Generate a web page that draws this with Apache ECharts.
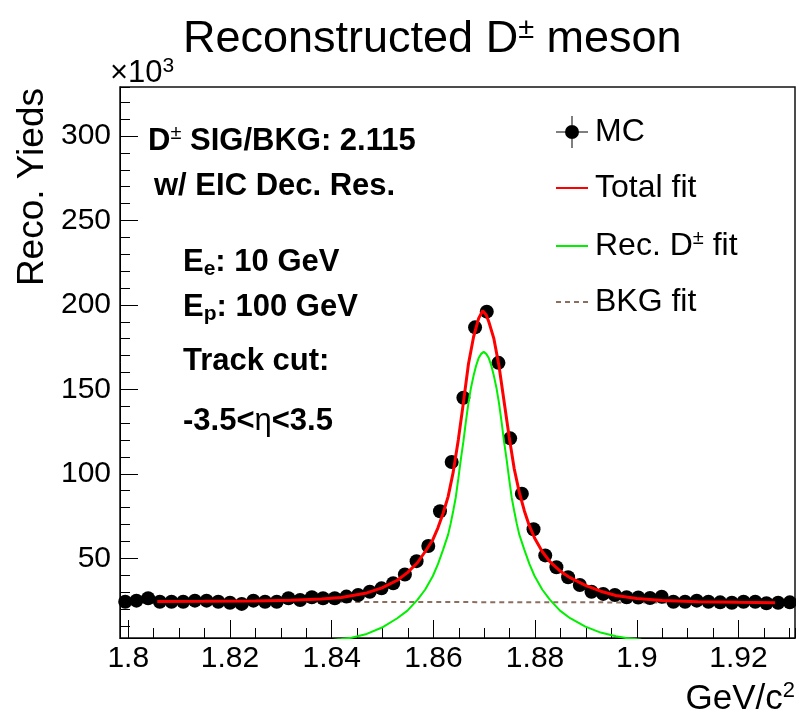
<!DOCTYPE html>
<html><head><meta charset="utf-8">
<script src="https://cdn.jsdelivr.net/npm/echarts@6/dist/echarts.min.js"></script>
<style>html,body{margin:0;padding:0;background:#fff}#c{width:796px;height:718px}</style>
</head><body><div id="c"></div>
<script>
// ---- data (GeV/c^2, yields in units of 10^3) ----
const binCenters = [1.7994,1.8016,1.8039,1.8062,1.8085,1.8108,1.8131,1.8154,1.8177,1.8200,
  1.8223,1.8246,1.8269,1.8292,1.8315,1.8338,1.8361,1.8383,1.8406,1.8429,
  1.8452,1.8475,1.8498,1.8521,1.8544,1.8567,1.8590,1.8613,1.8636,1.8659,
  1.8682,1.8705,1.8728,1.8751,1.8774,1.8797,1.8820,1.8842,1.8865,1.8888,
  1.8911,1.8934,1.8957,1.8980,1.9003,1.9026,1.9049,1.9072,1.9095,1.9118,
  1.9141,1.9164,1.9187,1.9210,1.9233,1.9255,1.9278,1.9301];
const mcYields = [24.3,24.9,26.3,24.3,24.3,24.3,24.9,24.9,24.3,23.7,
  23.0,24.9,24.3,24.3,26.3,25.3,26.9,26.3,26.3,27.3,
  28.3,30.2,32.2,35.2,40.4,48.3,57.3,77.8,107,145,
  186.7,196,165.7,121,88.2,67.2,51.7,44.7,38.8,34.2,
  30.2,28.9,28.3,26.9,26.8,26.5,27.2,24.3,24.3,24.9,
  24.3,23.9,23.7,24.3,24.3,23.4,23.7,23.9];

const fitX = [1.8057,1.8150,1.8250,1.8320,1.8380,1.8419,1.8469,1.8499,1.8529,1.8549,
  1.8569,1.8584,1.8599,1.8609,1.8619,1.8629,1.8639,1.8649,1.8659,1.8669,
  1.8679,1.8689,1.8697,1.8704,1.8709,1.8719,1.8729,1.8739,1.8749,1.8759,
  1.8769,1.8779,1.8789,1.8799,1.8814,1.8829,1.8849,1.8869,1.8899,1.8929,
  1.8959,1.9000,1.9050,1.9120,1.9200,1.9272];
const totalFit = [24.4,24.5,24.7,25.1,25.9,26.8,29.5,32.5,37,41.5,
  47.5,54,61,68,76.5,86.5,101,120,142,165,
  181,192,196.5,194,190,180,164,143,122,103,
  89,78,69,62,54,48,42.5,38.5,34,30.5,
  28,26.2,25,24.3,23.9,23.7];

const sigX = [1.8389,1.8419,1.8439,1.8469,1.8499,1.8529,1.8549,1.8569,1.8584,1.8599,
  1.8609,1.8619,1.8629,1.8634,1.8639,1.8644,1.8649,1.8654,1.8659,1.8664,
  1.8669,1.8674,1.8679,1.8684,1.8689,1.8694,1.8699,1.8704,1.8709,1.8714,
  1.8719,1.8724,1.8729,1.8734,1.8739,1.8744,1.8749,1.8754,1.8759,1.8764,
  1.8769,1.8779,1.8789,1.8799,1.8814,1.8829,1.8849,1.8869,1.8899,1.8929,
  1.8959,1.8979,1.9009];
const sigFit = [1.2,2.2,3.0,5.2,9.0,14.5,19,25.5,31.5,39.5,
  46.5,55,64,70.5,78,86,97,108.5,119,131,
  142,151,158,164,168.5,171,172.2,171,168.5,164,
  158,151,142,131,119,108.5,97,86,78,70.5,
  64,55,46.5,39.5,31.5,25.5,19,14.5,9.5,6,
  3.8,2.8,1.8];

const bkgX = [1.8057,1.9272];
const bkgFit = [24.4,23.7];

const xRange = [1.79837, 1.93112];
const yRange = [2.8, 329];

const zip = (a, b) => a.map((v, i) => [v, b[i]]);
const FONT = '"Liberation Sans", Arial, Helvetica, sans-serif';

const chart = echarts.init(document.getElementById('c'), null, {renderer: 'canvas'});

const baseAxisCommon = {
  axisLine: {show: true, lineStyle: {color: '#000', width: 1}},
  splitLine: {show: false},
};

const RED = '#ff0000', GREEN = '#00f000', BROWN = '#8c6e5f';

const option = {
  animation: false,
  backgroundColor: '#fff',
  grid: {left: 120, right: 1, top: 87, bottom: 80, show: true, borderColor: '#111', borderWidth: 1.5, backgroundColor: 'transparent'},
  xAxis: [
    Object.assign({}, baseAxisCommon, {
      type: 'value', min: xRange[0], max: xRange[1], splitNumber: 7, position: 'bottom',
      axisTick: {show: true, inside: true, length: 18, lineStyle: {color: '#000', width: 1}},
      axisLabel: {show: true, fontSize: 30, color: '#000', fontFamily: FONT, margin: 6,
                  showMinLabel: false, showMaxLabel: false}
    }),
    {
      type: 'value', min: xRange[0], max: xRange[1], splitNumber: 27, position: 'bottom',
      axisLine: {show: false}, splitLine: {show: false}, axisLabel: {show: false},
      axisTick: {show: true, inside: true, length: 10, lineStyle: {color: '#000', width: 1}}
    }
  ],
  yAxis: [
    Object.assign({}, baseAxisCommon, {
      type: 'value', min: yRange[0], max: yRange[1], splitNumber: 6, position: 'left',
      axisTick: {show: true, inside: true, length: 18, lineStyle: {color: '#000', width: 1}},
      axisLabel: {show: true, fontSize: 30, color: '#000', fontFamily: FONT, margin: 9,
                  showMinLabel: false, showMaxLabel: false}
    }),
    {
      type: 'value', min: yRange[0], max: yRange[1], splitNumber: 33, position: 'left',
      axisLine: {show: false}, splitLine: {show: false}, axisLabel: {show: false},
      axisTick: {show: true, inside: true, length: 10, lineStyle: {color: '#000', width: 1}}
    }
  ],
  legend: {
    orient: 'vertical', left: 556, top: 116, itemWidth: 32, itemHeight: 32, itemGap: 24,
    padding: 0, selectedMode: false,
    data: [
      {name: 'MC', icon: 'path://M0,15.5H32V16.5H0Z M15.5,0H16.5V32H15.5Z M23,16A7,7 0 1,1 9,16A7,7 0 1,1 23,16Z',
       itemStyle: {color: '#000', opacity: 1}},
      {name: 'Total fit', icon: 'path://M0,15H32V17H0Z', itemStyle: {color: RED}},
      {name: 'Rec. D\u00b1 fit', icon: 'path://M0,15H32V17H0Z', itemStyle: {color: GREEN}},
      {name: 'BKG fit', icon: 'path://M0,15H5V17H0Z M9,15H14V17H9Z M18,15H23V17H18Z M27,15H32V17H27Z', itemStyle: {color: BROWN}}
    ],
    textStyle: {fontSize: 32, color: '#000', fontFamily: FONT, padding: [0, 0, 0, 2],
      rich: {
        n: {fontSize: 32, color: '#000', fontFamily: FONT, lineHeight: 36},
        s: {fontSize: 20, color: '#000', fontFamily: FONT, verticalAlign: 'top', lineHeight: 18}
      }},
    formatter: function (name) {
      if (name === 'Rec. D\u00b1 fit') return '{n|Rec. D}{s|\u00b1}{n| fit}';
      return name;
    }
  },
  graphic: [
    {type: 'text', x: 183, y: 40, style: {
      text: '{a|Reconstructed D}{s|\u00b1}{a| meson}', verticalAlign: 'middle',
      rich: {a: {fontSize: 45, fontFamily: FONT, fill: '#000', lineHeight: 50},
             s: {fontSize: 29, fontFamily: FONT, fill: '#000', verticalAlign: 'top', lineHeight: 26}}
    }},
    {type: 'text', x: 110, y: 73, style: {
      text: '{a|\u00d710}{s|3}', verticalAlign: 'middle',
      rich: {a: {fontSize: 31, fontFamily: FONT, fill: '#000', lineHeight: 34},
             s: {fontSize: 21, fontFamily: FONT, fill: '#000', verticalAlign: 'top', lineHeight: 14}}
    }},
    {type: 'text', x: 33, y: 88, rotation: Math.PI / 2, style: {
      text: 'Reco. Yieds', fontSize: 37, fontFamily: FONT, fill: '#000', align: 'right', verticalAlign: 'middle'
    }},
    {type: 'text', x: 795, y: 699, style: {
      text: '{a|GeV/c}{s|2}', align: 'right', verticalAlign: 'middle',
      rich: {a: {fontSize: 35, fontFamily: FONT, fill: '#000', lineHeight: 38},
             s: {fontSize: 22, fontFamily: FONT, fill: '#000', verticalAlign: 'top', lineHeight: 16}}
    }},
    {type: 'text', x: 148, y: 141, style: {
      text: '{b|D}{s|\u00b1}{b| SIG/BKG: 2.115}', verticalAlign: 'middle',
      rich: {b: {fontSize: 31, fontWeight: 'bold', fontFamily: FONT, fill: '#000', lineHeight: 36},
             s: {fontSize: 20, fontFamily: FONT, fill: '#000', verticalAlign: 'top', lineHeight: 16}}
    }},
    {type: 'text', x: 154, y: 186, style: {
      text: 'w/ EIC Dec. Res.', verticalAlign: 'middle', fontSize: 31, fontWeight: 'bold', fontFamily: FONT, fill: '#000'
    }},
    {type: 'text', x: 183, y: 262, style: {
      text: '{b|E}{u|e}{b|: 10 GeV}', verticalAlign: 'middle',
      rich: {b: {fontSize: 31, fontWeight: 'bold', fontFamily: FONT, fill: '#000', lineHeight: 36},
             u: {fontSize: 21, fontWeight: 'bold', fontFamily: FONT, fill: '#000', verticalAlign: 'bottom', lineHeight: 16}}
    }},
    {type: 'text', x: 183, y: 307, style: {
      text: '{b|E}{u|p}{b|: 100 GeV}', verticalAlign: 'middle',
      rich: {b: {fontSize: 31, fontWeight: 'bold', fontFamily: FONT, fill: '#000', lineHeight: 36},
             u: {fontSize: 21, fontWeight: 'bold', fontFamily: FONT, fill: '#000', verticalAlign: 'bottom', lineHeight: 16}}
    }},
    {type: 'text', x: 183, y: 361, style: {
      text: 'Track cut:', verticalAlign: 'middle', fontSize: 31, fontWeight: 'bold', fontFamily: FONT, fill: '#000'
    }},
    {type: 'text', x: 183, y: 421, style: {
      text: '{b|-3.5<}{g|\u03b7}{b|<3.5}', verticalAlign: 'middle',
      rich: {b: {fontSize: 31, fontWeight: 'bold', fontFamily: FONT, fill: '#000', lineHeight: 36},
             g: {fontSize: 31, fontFamily: FONT, fill: '#000', lineHeight: 36}}
    }}
  ],
  series: [
    {name: 'BKG fit', type: 'line', data: zip(bkgX, bkgFit), symbol: 'none', z: 1, color: BROWN,
     lineStyle: {color: BROWN, width: 2, type: [5, 4]}},
    {name: 'MC', type: 'scatter', data: zip(binCenters, mcYields), symbol: 'circle', symbolSize: 14, z: 2,
     color: '#000', itemStyle: {color: '#000', opacity: 1}},
    {name: 'Rec. D\u00b1 fit', type: 'line', data: zip(sigX, sigFit), symbol: 'none', z: 3, clip: true, color: GREEN,
     lineStyle: {color: GREEN, width: 2}},
    {name: 'Total fit', type: 'line', data: zip(fitX, totalFit), symbol: 'none', z: 4, clip: true, color: RED,
     lineStyle: {color: RED, width: 3}}
  ]
};
chart.setOption(option);
</script>
</body></html>
